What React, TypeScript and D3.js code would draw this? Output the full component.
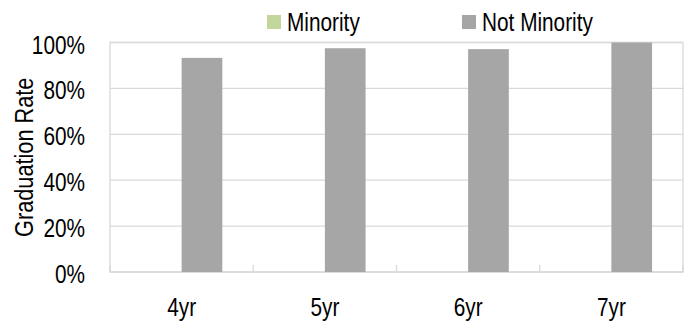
import React from "react";
import * as d3 from "d3";

const categories = ["4yr", "5yr", "6yr", "7yr"];
const seriesNames = ["Minority", "Not Minority"];
const minorityValues = [0, 0, 0, 0];
const notMinorityValues = [0.933, 0.975, 0.971, 1.0];
const yTicks = [0, 0.2, 0.4, 0.6, 0.8, 1.0];
const colors = ["#c3d69b", "#a6a6a6"];

const W = 694;
const H = 328;
const plot = { left: 110, right: 683, top: 42.5, bottom: 272 };
const FONT = "'Liberation Sans', Arial, sans-serif";
const SX = 0.8;

function NText({ x, y, anchor = "start", size = 26, rotate = 0, children }: any) {
  return (
    <text
      transform={`translate(${x},${y}) rotate(${rotate}) scale(${SX},1)`}
      textAnchor={anchor}
      fontSize={size}
      fill="#000"
    >
      {children}
    </text>
  );
}

export default function App() {
  const x0 = d3.scaleBand<string>().domain(categories).range([plot.left, plot.right]).paddingInner(0).paddingOuter(0);
  const x1 = d3.scaleBand<string>().domain(seriesNames).range([0, x0.bandwidth()]).paddingInner(0).paddingOuter(0.76);
  const y = d3.scaleLinear().domain([0, 1]).range([plot.bottom, plot.top]);
  const fmt = d3.format(".0%");
  const seriesValues = [minorityValues, notMinorityValues];

  const boundaries = categories.map((c) => x0(c)!).concat([plot.right]);

  return (
    <svg width={W} height={H} style={{ position: "absolute", left: 0, top: 0, background: "#fff" }} fontFamily={FONT}>
      {yTicks.map((t) => (
        <line key={"g" + t} x1={plot.left} x2={plot.right} y1={y(t)} y2={y(t)} stroke="#d9d9d9" strokeWidth={1.3} />
      ))}
      <rect x={plot.left} y={plot.top} width={plot.right - plot.left} height={plot.bottom - plot.top} fill="none" stroke="#d9d9d9" strokeWidth={1.3} />
      {boundaries.map((b, i) => (
        <line key={"t" + i} x1={b} x2={b} y1={plot.bottom} y2={plot.bottom - 7} stroke="#d9d9d9" strokeWidth={1.3} />
      ))}
      {seriesNames.map((s, si) =>
        categories.map((c, ci) => {
          const v = seriesValues[si][ci];
          return (
            <rect
              key={s + c}
              x={x0(c)! + x1(s)!}
              y={y(v)}
              width={x1.bandwidth()}
              height={plot.bottom - y(v)}
              fill={colors[si]}
            />
          );
        })
      )}
      {yTicks.map((t) => (
        <NText key={"yl" + t} x={85} y={y(t) + 11} anchor="end">
          {fmt(t)}
        </NText>
      ))}
      {categories.map((c) => (
        <NText key={"xl" + c} x={x0(c)! + x0.bandwidth() / 2} y={315.5} anchor="middle">
          {c}
        </NText>
      ))}
      <text
        transform={`translate(33,${(plot.top + plot.bottom) / 2}) rotate(-90) scale(0.82,1)`}
        textAnchor="middle"
        fontSize={26.5}
        fill="#000"
      >
        Graduation Rate
      </text>
      {seriesNames.map((s, i) => {
        const lx = [267, 462][i];
        return (
          <g key={"lg" + s}>
            <rect x={lx} y={15} width={14} height={14} fill={colors[i]} />
            <NText x={lx + 20} y={31}>
              {s}
            </NText>
          </g>
        );
      })}
    </svg>
  );
}
